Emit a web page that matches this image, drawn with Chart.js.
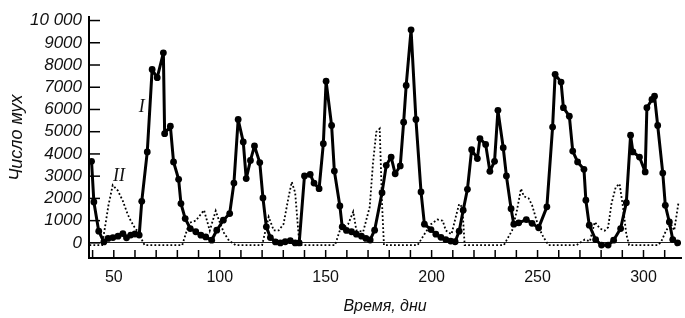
<!DOCTYPE html>
<html>
<head>
<meta charset="utf-8">
<script src="https://cdn.jsdelivr.net/npm/chart.js@4.4.1/dist/chart.umd.min.js"></script>
<style>
  html, body { margin: 0; padding: 0; background: #fff; }
  canvas { display: block; }
</style>
</head>
<body>
<canvas id="fliesChart" width="685" height="318"></canvas>
<script>
// Series I - adults (solid line with dots)
const daysI = [39.5, 40.6, 42.9, 45.3, 47.3, 49.6, 52, 54.3, 56, 58, 60, 62, 63.2, 65.8, 68.1, 70.5, 73.4, 74.0,
    76.7, 78.2, 80.6, 81.7, 83.7, 86.1, 88.7, 91.1, 93.4, 96.2, 98.6, 101.7, 104.7, 106.7, 108.7, 111.1,
    112.5, 114.5, 116.4, 118.9, 120.4, 122, 123.9, 126.3, 128.6, 130.9, 133.3, 135.6, 137.5, 140, 142.7,
    144.5, 146.9, 148.9, 150.2, 152.8, 154.1, 156.7, 157.8, 159.8, 162.2, 164.5, 166.9, 169, 171, 173.1,
    176.6, 178.6, 180.9, 182.8, 185.2, 186.8, 188, 190.3, 192.6, 195, 196.6, 199.7, 202, 204.4, 206.7,
    209, 211.1, 213, 214.9, 216.9, 218.9, 221.6, 222.8, 225.5, 227.5, 229.7, 231.3, 233.8, 235.3, 237.5,
    238.8, 241.1, 244.7, 247.4, 250.5, 254.4, 257.1, 258.3, 261.1, 262.2, 265, 266.6, 268.9, 271.9, 272.8,
    274.4, 277.4, 280.2, 283.3, 285.9, 289.2, 291.9, 293.9, 295, 298.1, 300.8, 301.6, 304, 305.2, 306.7,
    309.1, 310.3, 312.2, 313.8, 316.1];
const fliesI = [3670, 1840, 525, 45, 200, 240, 300, 420, 230, 350, 400, 350, 1870, 4090, 7800, 7430, 8550, 4910,
    5250, 3640, 2860, 1770, 1095, 645, 500, 345, 270, 120, 570, 1020, 1320, 2690, 5550, 4540,
    2890, 3710, 4360, 3610, 2020, 720, 240, 45, 0, 50, 100, 0, 0, 3010, 3080,
    2690, 2440, 4460, 7270, 5280, 3230, 1660, 720, 560, 500, 390, 300, 200, 130, 570,
    2260, 3490, 3860, 3110, 3460, 5430, 7080, 9580, 5550, 2290, 840, 600, 390, 250, 150,
    80, 50, 525, 1470, 2410, 4190, 3790, 4690, 4430, 3220, 3670, 5960, 4280, 3010, 1540,
    840, 900, 1050, 880, 675, 1620, 5210, 7580, 7230, 6080, 5700, 4130, 3640, 3310, 1920,
    795, 150, -100, -100, 120, 645, 1810, 4840, 4090, 3860, 3190, 6080, 6450, 6600, 5280,
    3140, 1690, 940, 150, 0];

// Series II (dotted line)
const daysII = [38.5, 44.5, 46, 47.5, 49.5, 51.9, 54.2, 56.5, 58, 59.8, 61.4, 64.5, 82.3, 85.6, 88.7, 92.6,
    95.3, 98.1, 99.7, 102, 104.4, 107.5, 120, 123.1, 125.5, 127.8, 130.1, 132.5, 134, 135.6, 137.2, 138,
    154.4, 156.7, 160.6, 163, 164.5, 167.7, 170.8, 172.3, 173.9, 175.5, 176.6, 177.5, 193.4, 196.6, 199.7,
    202.8, 205.2, 206.7, 209.4, 211.4, 213, 214.5, 215.6, 234.1, 238, 240.3, 242.2, 243.5, 245.8, 247.4,
    250.5, 252.8, 255.2, 268.4, 272.3, 274.7, 277, 279.4, 281.7, 283.3, 284.9, 286.9, 288.7, 290.3, 291.9,
    293.2, 306.8, 308.3, 310.7, 313, 314.5, 316.5];
const fliesII = [-100, -100, 800, 1700, 2600, 2350, 1900, 1300, 1000, 700, 500, -100, -100, 900, 1000, 1470,
    550, 1440, 1000, 450, 100, -100, -100, 1170, 560, 560, 840, 2070, 2740, 2260, 390, -100,
    -100, 560, 840, 1400, 560, 500, 1620, 3560, 4990, 5140, 1770, -100, -100, 390, 840,
    1050, 1000, 560, 390, 1170, 1750, 1600, -100, -100, 560, 1480, 2440, 2100, 2000, 1700,
    700, 250, -100, -100, 150, 70, 940, 650, 550, 700, 1770, 2510, 2660, 1620, 390,
    -100, -100, 45, 560, 850, 560, 1800];

const xTicks = [40, 50, 60, 70, 80, 90, 100, 110, 120, 130, 140, 150, 160, 170, 180, 190, 200,
    210, 220, 230, 240, 250, 260, 270, 280, 290, 300, 310];
const yTicks = [0, 1000, 2000, 3000, 4000, 5000, 6000, 7000, 8000, 9000, 10000];

// curve labels, in data coordinates
const curveLabels = [
    { text: "I", day: 63.2, value: 6100 },
    { text: "II", day: 52.5, value: 3000 }
];

const innerTicks = {
    id: "innerTicks",
    afterDraw(chart) {
        const { ctx, chartArea, scales: { x, y } } = chart;
        ctx.save();
        ctx.strokeStyle = "#000";
        ctx.lineWidth = 1.5;
        x.ticks.forEach(t => {
            const px = x.getPixelForValue(t.value);
            ctx.beginPath();
            ctx.moveTo(px, chartArea.bottom);
            ctx.lineTo(px, chartArea.bottom - 8);
            ctx.stroke();
        });
        y.ticks.forEach(t => {
            const py = y.getPixelForValue(t.value);
            ctx.beginPath();
            ctx.moveTo(chartArea.left, py);
            ctx.lineTo(chartArea.left + 11, py);
            ctx.stroke();
        });
        ctx.fillStyle = "#111";
        ctx.font = "italic 18px 'Liberation Serif', serif";
        ctx.textAlign = "center";
        ctx.textBaseline = "middle";
        curveLabels.forEach(l => {
            ctx.fillText(l.text, x.getPixelForValue(l.day), y.getPixelForValue(l.value));
        });
        ctx.restore();
    }
};

const ctx = document.getElementById("fliesChart").getContext("2d");

new Chart(ctx, {
    type: "line",
    data: {
        datasets: [
            {
                label: "I",
                data: daysI.map((d, i) => ({ x: d, y: fliesI[i] })),
                borderColor: "#000",
                backgroundColor: "#000",
                borderWidth: 3,
                borderJoinStyle: "round",
                pointRadius: 3.4,
                pointBorderWidth: 0,
                tension: 0,
                order: 0
            },
            {
                label: "II",
                data: daysII.map((d, i) => ({ x: d, y: fliesII[i] })),
                borderColor: "#000",
                borderWidth: 1.8,
                borderDash: [1.8, 2.2],
                pointRadius: 0,
                tension: 0,
                order: 1
            }
        ]
    },
    options: {
        responsive: false,
        animation: false,
        layout: { padding: { top: 17, right: 0, left: 0, bottom: 0 } },
        plugins: {
            legend: { display: false },
            tooltip: { enabled: false }
        },
        scales: {
            x: {
                type: "linear",
                min: 38.3,
                max: 317.7,
                afterBuildTicks: scale => { scale.ticks = xTicks.map(v => ({ value: v })); },
                afterFit: scale => { scale.height = 60; },
                grid: { display: false, drawTicks: false },
                border: { display: true, color: "#000", width: 2 },
                ticks: {
                    padding: 10,
                    color: "#111",
                    font: { family: "'Liberation Sans Narrow', 'Liberation Sans', sans-serif", size: 16 },
                    maxRotation: 0,
                    autoSkip: false,
                    callback: v => (v % 50 === 0 ? String(v) : "")
                },
                title: {
                    display: true,
                    text: "Время, дни",
                    color: "#111",
                    font: { family: "'Liberation Sans', sans-serif", size: 16, style: "italic" },
                    padding: { top: 0, bottom: 2 }
                }
            },
            y: {
                min: -680,
                max: 10150,
                afterBuildTicks: scale => { scale.ticks = yTicks.map(v => ({ value: v })); },
                afterFit: scale => { scale.width = 89; },
                grid: {
                    drawTicks: false,
                    color: c => (c.tick && c.tick.value === 0 ? "#222" : "rgba(0,0,0,0)"),
                    lineWidth: 1
                },
                border: { display: true, color: "#000", width: 2 },
                ticks: {
                    padding: 7,
                    color: "#111",
                    font: { family: "'Liberation Sans', sans-serif", size: 17, style: "italic" },
                    callback: v => (v === 10000 ? "10 000" : String(v))
                },
                title: {
                    display: true,
                    text: "Число мух",
                    color: "#111",
                    font: { family: "'Liberation Sans', sans-serif", size: 18, style: "italic" },
                    padding: { top: 6, bottom: 0 }
                }
            }
        }
    },
    plugins: [innerTicks]
});
</script>
</body>
</html>
